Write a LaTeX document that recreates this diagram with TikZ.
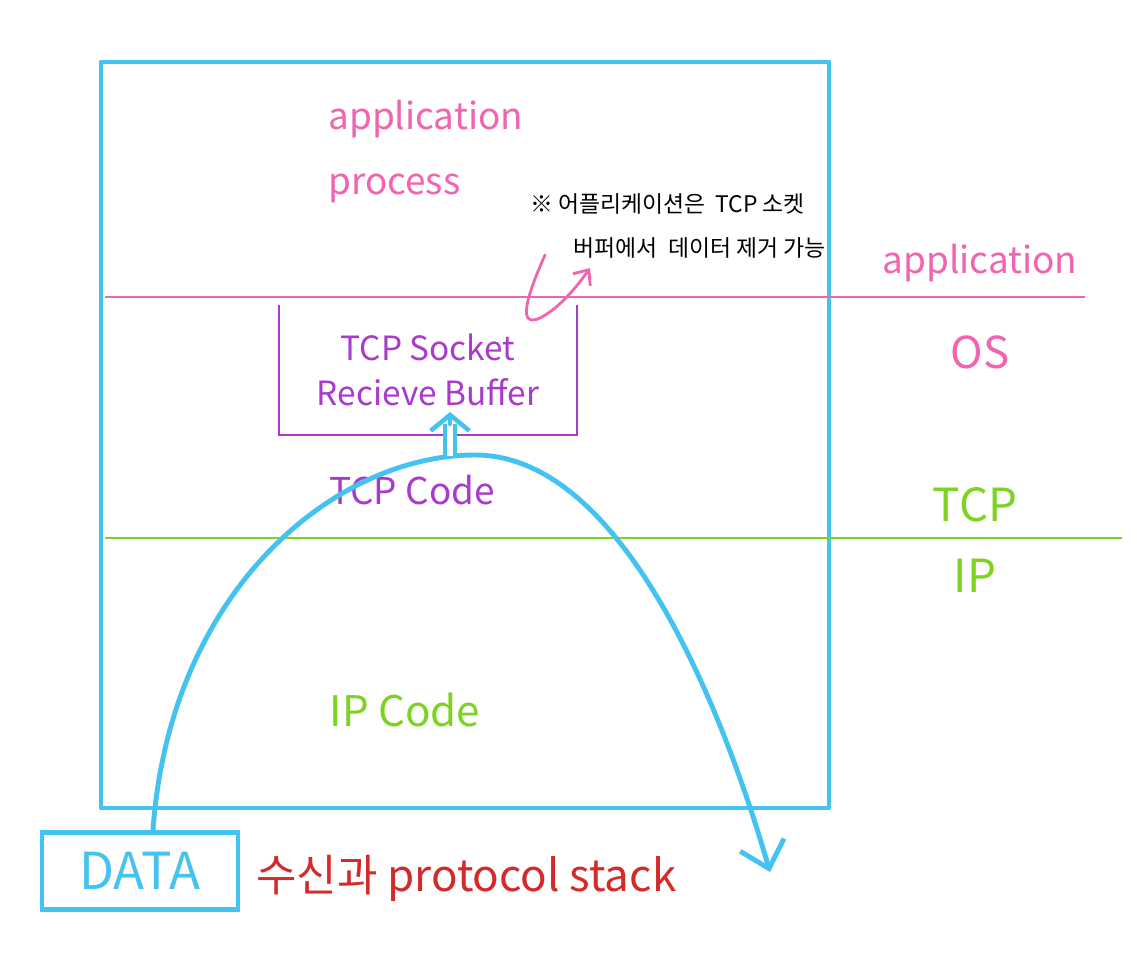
\documentclass[tikz,border=0pt]{standalone}
\usepackage{fontspec}
\setmainfont{Noto Sans CJK KR}
\usepackage{tikz}
\usetikzlibrary{
arrows.meta,
positioning
}
\definecolor{skyblue}{HTML}{45C3F0}
\definecolor{pinkline}{HTML}{F064B0}
\definecolor{greenline}{HTML}{7DD321}
\definecolor{purpleline}{HTML}{A83ACC}
\definecolor{redink}{HTML}{D42A2A}

\begin{document}
\begin{tikzpicture}[
x=0.02cm, y=-0.02cm,
flow/.style={draw=skyblue, line width=2.8pt, line cap=round, line join=round},
layer/.style={line width=1.7pt},
txt/.style={inner sep=0pt, font=\fontsize{#1}{#1}\selectfont},
txt/.default=20,
arrow/.style={-{Straight Barb[length=14pt,width=26pt]}}
]

\fill[white] (0,0) rectangle (1137,967);
\useasboundingbox (0,0) rectangle (1137,967);

% protocol stack box
\draw[flow] (101,62) rectangle (829,808);

% layer boundaries
\draw[layer, pinkline] (105,297) -- (1085,297);
\draw[layer, greenline] (105,538) -- (1122,538);

\node[inner sep=0pt, text=pinkline, align=left, anchor=north west,
font=\fontsize{21}{37}\selectfont] (app) at (328,100)
{application\\process};

\node[txt=21, text=pinkline] (appR) at (980,263) {application};
\node[txt=25, text=pinkline] (os) at (980,352) {OS};
\node[txt=26, text=greenline] (tcpR) at (975,505) {TCP};
\node[txt=26, text=greenline] (ipR) at (975,576) {IP};

% receive buffer
\node[text=purpleline, align=center, minimum width=5.94cm,
minimum height=2.6cm, font=\fontsize{19}{26}\selectfont]
(buffer) at (428,370) {TCP Socket\\Recieve Buffer};
\draw[purpleline, line width=1.1pt]
(buffer.north west) -- (buffer.south west)
-- (buffer.south east) -- (buffer.north east);

\node[txt=21, text=purpleline] (tcp) at (412,490) {TCP Code};
\node[txt=24, text=greenline] (ip) at (405,710) {IP Code};

% note
\node[align=left, anchor=north west, inner sep=0pt,
font=\fontsize{13}{25}\selectfont] (note) at (530,193)
{※ 어플리케이션은 \ TCP 소켓\\\hspace*{1.9em}버퍼에서 \ 데이터 제거 가능};
\coordinate (noteFrom) at (545,255);
\coordinate (noteTo) at (590,268);
\draw[pinkline, line width=1.6pt, line cap=round,
-{Straight Barb[length=7pt,width=12pt]}]
(noteFrom) .. controls (525,300) and (518,328) .. (540,318)
.. controls (560,308) and (578,285) .. (noteTo);

% data
\node[draw=skyblue, line width=2.8pt, minimum width=3.92cm,
minimum height=1.54cm, text=skyblue, font=\fontsize{29}{29}\selectfont]
(data) at (140,871) {DATA};
\node[txt=25, text=redink, anchor=west] (caption) at (256,878)
{수신과 protocol stack};

% path of the data
\coordinate (peak) at (475,455);
\coordinate (out) at (770,872);
\draw[flow, arrow] ([xshift=0.26cm]data.north)
.. controls (170,590) and (335,455) .. (peak)
.. controls (620,455) and (720,700) .. (out);

\coordinate (up) at (450,456);
\coordinate (upMid) at (450,424);
\coordinate (upEnd) at (450,412);
\draw[skyblue, line width=2.4pt, double, double distance=3.5pt] (up) -- (upMid);
\draw[skyblue, line width=2.6pt, line cap=round,
-{Straight Barb[length=9pt,width=22pt]}] (upMid) -- (upEnd);

\end{tikzpicture}
\end{document}
